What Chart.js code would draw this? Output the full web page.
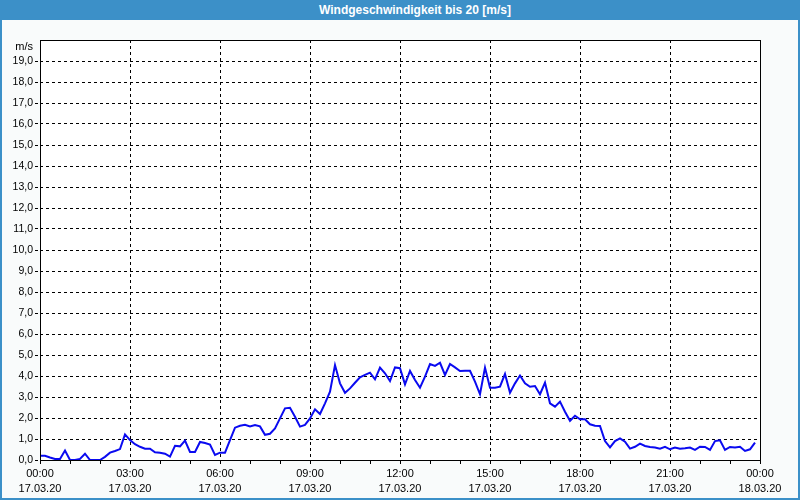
<!DOCTYPE html>
<html lang="de">
<head>
    <meta charset="UTF-8">
    <title>Windgeschwindigkeit</title>
    <script src="https://cdn.jsdelivr.net/npm/chart.js"></script>
    <style>
        body {
            margin: 0;
            padding: 0;
            background: #ffffff;
        }
        .frame {
            position: relative;
            width: 800px;
            height: 500px;
            box-sizing: border-box;
            border: 2px solid #3c90c8;
            border-top: none;
            background-color: #f9fbfb;
            overflow: hidden;
        }
        .titlebar {
            position: absolute;
            top: 0;
            left: -2px;
            width: 800px;
            height: 20px;
            line-height: 20px;
            background-color: #3c90c8;
            color: white;
            font-family: "Liberation Sans", Arial, sans-serif;
            font-weight: bold;
            font-size: 12px;
            text-align: center;
            padding-left: 30px;
            box-sizing: border-box;
        }
        canvas {
            position: absolute;
            top: 0;
            left: -2px;
        }
    </style>
</head>
<body>
    <div class="frame">
        <div class="titlebar">Windgeschwindigkeit bis 20 [m/s]</div>
        <canvas id="windChart" width="800" height="500"></canvas>
    </div>

    <script>
        // one reading every 10 minutes, 17.03.20 00:00 - 23:50
        const intervalMinutes = 10;
        const windSpeed = [
            0.2, 0.2, 0.12, 0.05, 0.05, 0.45, 0.0, 0.0, 0.05, 0.3, 0.0, 0.0,
            0.0, 0.15, 0.35, 0.43, 0.52, 1.22, 0.95, 0.75, 0.63, 0.54, 0.54, 0.37,
            0.35, 0.3, 0.16, 0.68, 0.65, 0.92, 0.38, 0.38, 0.86, 0.81, 0.73, 0.24,
            0.35, 0.35, 0.95, 1.54, 1.63, 1.68, 1.6, 1.67, 1.6, 1.2, 1.25, 1.5,
            1.98, 2.46, 2.49, 2.06, 1.59, 1.67, 1.98, 2.41, 2.19, 2.7, 3.25, 4.52,
            3.65, 3.2, 3.41, 3.68, 3.94, 4.05, 4.16, 3.84, 4.4, 4.13, 3.76, 4.41,
            4.37, 3.6, 4.24, 3.81, 3.44, 3.97, 4.57, 4.48, 4.63, 4.05, 4.57, 4.41,
            4.24, 4.25, 4.25, 3.73, 3.13, 4.4, 3.44, 3.44, 3.49, 4.1, 3.2, 3.65,
            4.02, 3.65, 3.49, 3.52, 3.13, 3.68, 2.7, 2.54, 2.78, 2.3, 1.87, 2.11,
            1.94, 1.94, 1.7, 1.63, 1.62, 0.9, 0.6, 0.9, 1.03, 0.87, 0.54, 0.63,
            0.78, 0.67, 0.62, 0.59, 0.54, 0.63, 0.51, 0.59, 0.54, 0.56, 0.59, 0.48,
            0.63, 0.62, 0.48, 0.9, 0.94, 0.48, 0.62, 0.6, 0.63, 0.43, 0.51, 0.83
        ];

        const xTimeLabels = ['00:00', '03:00', '06:00', '09:00', '12:00', '15:00', '18:00', '21:00', '00:00'];
        const xDateLabels = ['17.03.20', '17.03.20', '17.03.20', '17.03.20', '17.03.20', '17.03.20', '17.03.20', '17.03.20', '18.03.20'];
        const yTickLabels = [
            '0,0', '1,0', '2,0', '3,0', '4,0', '5,0', '6,0', '7,0', '8,0', '9,0',
            '10,0', '11,0', '12,0', '13,0', '14,0', '15,0', '16,0', '17,0', '18,0', '19,0', ''
        ];
        const yUnit = 'm/s';

        const points = windSpeed.map((v, i) => ({ x: i * intervalMinutes, y: v }));

        // white plot background, solid frame and unit label
        const framePlugin = {
            id: 'framePlugin',
            beforeDraw(chart) {
                const a = chart.chartArea;
                const ctx = chart.ctx;
                ctx.save();
                ctx.fillStyle = '#ffffff';
                ctx.fillRect(a.left, a.top, a.right - a.left, a.bottom - a.top);
                ctx.restore();
            },
            afterDraw(chart) {
                const a = chart.chartArea;
                const ctx = chart.ctx;
                ctx.save();
                ctx.strokeStyle = '#000000';
                ctx.lineWidth = 1;
                ctx.strokeRect(Math.round(a.left) + 0.5, Math.round(a.top) + 0.5,
                    Math.round(a.right - a.left), Math.round(a.bottom - a.top));
                ctx.fillStyle = '#000000';
                ctx.font = '11px "Liberation Sans", Arial, sans-serif';
                ctx.textAlign = 'right';
                ctx.textBaseline = 'middle';
                ctx.fillText(yUnit, a.left - 7, a.top + 7);
                ctx.restore();
            }
        };

        const ctx = document.getElementById('windChart').getContext('2d');
        new Chart(ctx, {
            type: 'line',
            data: {
                datasets: [{
                    data: points,
                    borderColor: '#0a0af0',
                    borderWidth: 2,
                    pointRadius: 0,
                    tension: 0,
                    fill: false
                }]
            },
            options: {
                responsive: false,
                animation: false,
                layout: {
                    padding: { left: 0, top: 40, right: 40, bottom: 0 }
                },
                plugins: {
                    legend: { display: false },
                    tooltip: { enabled: false }
                },
                scales: {
                    x: {
                        type: 'linear',
                        min: 0,
                        max: 1440,
                        afterFit(scale) { scale.height = 40; },
                        ticks: {
                            stepSize: 60,
                            autoSkip: false,
                            maxRotation: 0,
                            padding: 3,
                            color: '#000000',
                            font: { family: '"Liberation Sans", Arial, sans-serif', size: 11, lineHeight: 1.35 },
                            callback: (value) => value % 180 === 0 ? [xTimeLabels[value / 180], xDateLabels[value / 180]] : ''
                        },
                        grid: {
                            color: (c) => (c.tick && c.tick.value % 180 === 0 && c.tick.value > 0 && c.tick.value < 1440) ? '#000000' : 'rgba(0,0,0,0)',
                            tickColor: '#000000',
                            tickLength: 4,
                            tickBorderDash: [],
                            lineWidth: 1
                        },
                        border: { display: false, dash: [3, 3] }
                    },
                    y: {
                        min: 0,
                        max: 20,
                        afterFit(scale) { scale.width = 40; },
                        ticks: {
                            stepSize: 1,
                            padding: 2,
                            color: '#000000',
                            font: { family: '"Liberation Sans", Arial, sans-serif', size: 10.5 },
                            callback: (value) => yTickLabels[value]
                        },
                        grid: {
                            color: (c) => (c.tick && c.tick.value > 0 && c.tick.value < 20) ? '#000000' : 'rgba(0,0,0,0)',
                            tickColor: (c) => (c.tick && c.tick.value < 20) ? '#000000' : 'rgba(0,0,0,0)',
                            tickLength: 5,
                            tickBorderDash: [3, 3],
                            lineWidth: 1
                        },
                        border: { display: false, dash: [3, 3] }
                    }
                }
            },
            plugins: [framePlugin]
        });
    </script>
</body>
</html>
